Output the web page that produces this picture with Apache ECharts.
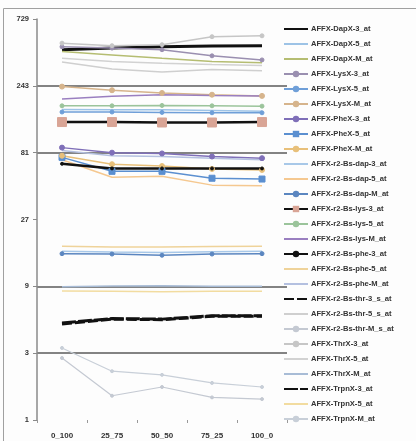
<!DOCTYPE html>
<html>
<head>
<meta charset="utf-8">
<script src="https://cdn.jsdelivr.net/npm/echarts@6/dist/echarts.min.js"></script>
<style>
  html, body { margin: 0; padding: 0; background: #fdfdfd; }
  #chart { width: 416px; height: 441px; }
</style>
</head>
<body>
<div id="chart"></div>
<script>
// Mix ratios on the x axis
const categories = ['0_100', '25_75', '50_50', '75_25', '100_0'];

// Signal per probe set
const dapX3 = [440, 452, 462, 468, 470];
const dapX5 = [165, 164, 164, 162, 160];
const dapXM = [427, 404, 382, 362, 355];
const lysX3 = [462, 452, 440, 398, 372];
const lysX5 = [158, 158, 157, 156, 156];
const lysXM = [240, 226, 216, 210, 206];
const pheX3 = [88, 81, 80, 76, 74];
const pheX5 = [75, 59.6, 59.6, 53.2, 52.5];
const pheXM = [77, 67, 65, 62, 61];
const r2BsDap3 = [16.0, 15.8, 15.7, 15.9, 16.0];
const r2BsDap5 = [72, 54, 55, 47.5, 47];
const r2BsDapM = [15.4, 15.3, 15.0, 15.3, 15.4];
const r2BsLys3 = [134, 134, 133, 133, 134];
const r2BsLys5 = [175, 175, 176, 175, 174];
const r2BsLysM = [196, 205, 210, 207, 206];
const r2BsPhe3 = [67.5, 62.5, 62.5, 62.5, 62.5];
const r2BsPhe5 = [17.4, 17.2, 17.2, 17.3, 17.4];
const r2BsPheM = [84, 77, 76, 74, 72];
const r2BsThr3s = [4.85, 5.25, 5.2, 5.5, 5.5];
const r2BsThr5s = [360, 320, 305, 318, 312];
const r2BsThrMs = [2.77, 1.49, 1.72, 1.45, 1.41];
const thrX3 = [490, 470, 478, 545, 553];
const thrX5 = [382, 362, 352, 345, 340];
const thrXM = [8.95, 9.05, 9.1, 9.0, 9.0];
const trpnX3 = [4.93, 5.3, 5.25, 5.55, 5.55];
const trpnX5 = [8.35, 8.3, 8.25, 8.3, 8.3];
const trpnXM = [3.27, 2.23, 2.10, 1.84, 1.72];

// Log-3 tick values shown on the y axis
const yTicks = [1, 3, 9, 27, 81, 243, 729];

const seriesDefs = [
  ['AFFX-DapX-3_at', dapX3, { color: '#111', width: 3, symbol: 'none' }],
  ['AFFX-DapX-5_at', dapX5, { color: '#9dc3e6', width: 1.5, symbol: 'none' }],
  ['AFFX-DapX-M_at', dapXM, { color: '#b5bd72', width: 1.5, symbol: 'none' }],
  ['AFFX-LysX-3_at', lysX3, { color: '#9a8fb0', width: 1.5, symbol: 'circle', size: 4 }],
  ['AFFX-LysX-5_at', lysX5, { color: '#6f9fd8', width: 1.5, symbol: 'circle', size: 4 }],
  ['AFFX-LysX-M_at', lysXM, { color: '#d6b48c', width: 1.5, symbol: 'circle', size: 5 }],
  ['AFFX-PheX-3_at', pheX3, { color: '#7f6fb8', width: 1.5, symbol: 'circle', size: 5 }],
  ['AFFX-PheX-5_at', pheX5, { color: '#5b8fd0', width: 1.5, symbol: 'rect', size: 6 }],
  ['AFFX-PheX-M_at', pheXM, { color: '#e8c07a', width: 1.5, symbol: 'circle', size: 5 }],
  ['AFFX-r2-Bs-dap-3_at', r2BsDap3, { color: '#a8c8e8', width: 1.5, symbol: 'none' }],
  ['AFFX-r2-Bs-dap-5_at', r2BsDap5, { color: '#f5c890', width: 1.5, symbol: 'none' }],
  ['AFFX-r2-Bs-dap-M_at', r2BsDapM, { color: '#5b86c0', width: 1.5, symbol: 'circle', size: 4 }],
  ['AFFX-r2-Bs-lys-3_at', r2BsLys3, { color: '#111', width: 2.5, symbol: 'rect', size: 9, symbolColor: '#d9a596' }],
  ['AFFX-r2-Bs-lys-5_at', r2BsLys5, { color: '#9bc49b', width: 1.5, symbol: 'circle', size: 4 }],
  ['AFFX-r2-Bs-lys-M_at', r2BsLysM, { color: '#9a7fc0', width: 1.5, symbol: 'none' }],
  ['AFFX-r2-Bs-phe-3_at', r2BsPhe3, { color: '#111', width: 2.5, symbol: 'circle', size: 3 }],
  ['AFFX-r2-Bs-phe-5_at', r2BsPhe5, { color: '#efd39a', width: 1.5, symbol: 'none' }],
  ['AFFX-r2-Bs-phe-M_at', r2BsPheM, { color: '#b4c0e0', width: 1.5, symbol: 'none' }],
  ['AFFX-r2-Bs-thr-3_s_at', r2BsThr3s, { color: '#111', width: 3, symbol: 'none', dash: [10, 3] }],
  ['AFFX-r2-Bs-thr-5_s_at', r2BsThr5s, { color: '#cfcfcf', width: 1.5, symbol: 'none' }],
  ['AFFX-r2-Bs-thr-M_s_at', r2BsThrMs, { color: '#c4c9d2', width: 1.2, symbol: 'circle', size: 3 }],
  ['AFFX-ThrX-3_at', thrX3, { color: '#c6c6c6', width: 1.5, symbol: 'circle', size: 4 }],
  ['AFFX-ThrX-5_at', thrX5, { color: '#d2d2d2', width: 1.5, symbol: 'none' }],
  ['AFFX-ThrX-M_at', thrXM, { color: '#a8bcd6', width: 1.5, symbol: 'none' }],
  ['AFFX-TrpnX-3_at', trpnX3, { color: '#111', width: 3, symbol: 'none', dash: [14, 2] }],
  ['AFFX-TrpnX-5_at', trpnX5, { color: '#f2dca0', width: 1.5, symbol: 'none' }],
  ['AFFX-TrpnX-M_at', trpnXM, { color: '#c8cfd8', width: 1.2, symbol: 'circle', size: 3 }]
];

const series = seriesDefs.map(([name, values, st]) => ({
  name: name,
  type: 'line',
  data: values,
  symbol: st.symbol,
  symbolSize: st.size || 4,
  showSymbol: st.symbol !== 'none',
  lineStyle: { color: st.color, width: st.width, type: st.dash || 'solid' },
  itemStyle: { color: st.symbolColor || st.color, borderColor: st.symbolColor || st.color },
  emphasis: { disabled: true },
  animation: false
}));

// Legend entries: the marker is hidden for series drawn as bare lines
const legendData = seriesDefs.map(([name, , st]) => (
  st.symbol === 'none'
    ? { name: name, itemStyle: { opacity: 0 } }
    : { name: name }
));

// Only some log levels carry a drawn grid line
const gridColors = yTicks.map(v => (v === 3 || v === 9 || v === 81 || v === 243) ? '#5a5a5a' : 'rgba(0,0,0,0)');

const chart = echarts.init(document.getElementById('chart'), null, { renderer: 'canvas' });
chart.setOption({
  backgroundColor: '#fdfdfd',
  animation: false,
  graphic: [{
    type: 'rect',
    shape: { x: 3.5, y: 8.5, width: 430, height: 450 },
    style: { fill: 'none', stroke: '#a0a0a0', lineWidth: 1 },
    silent: true
  }],
  grid: { left: 37, right: 129, top: 19, bottom: 21 },
  xAxis: {
    type: 'category',
    data: categories,
    boundaryGap: true,
    axisLine: { show: false },
    axisTick: { show: true, length: 3, lineStyle: { color: '#999' } },
    axisLabel: { color: '#333', fontSize: 8, fontWeight: 'bold', fontFamily: 'Liberation Sans', margin: 12 }
  },
  yAxis: {
    type: 'log',
    logBase: 3,
    min: 1,
    max: 729,
    axisLine: { show: true, lineStyle: { color: '#8a8a8a', width: 1.5 } },
    axisTick: { show: true, length: 4, lineStyle: { color: '#8a8a8a' } },
    axisLabel: { color: '#333', fontSize: 7.5, fontWeight: 'bold', fontFamily: 'Liberation Sans', margin: 8 },
    splitLine: { show: true, lineStyle: { color: gridColors, width: 1.5 } }
  },
  legend: {
    orient: 'vertical',
    left: 283,
    top: 25,
    padding: 0,
    itemWidth: 24,
    itemHeight: 8,
    itemGap: 7,
    textStyle: { color: '#333', fontSize: 7.6, lineHeight: 8, fontWeight: 'bold', fontFamily: 'Liberation Sans', padding: [0, 0, 0, -2] },
    data: legendData
  },
  series: series
});
</script>
</body>
</html>
